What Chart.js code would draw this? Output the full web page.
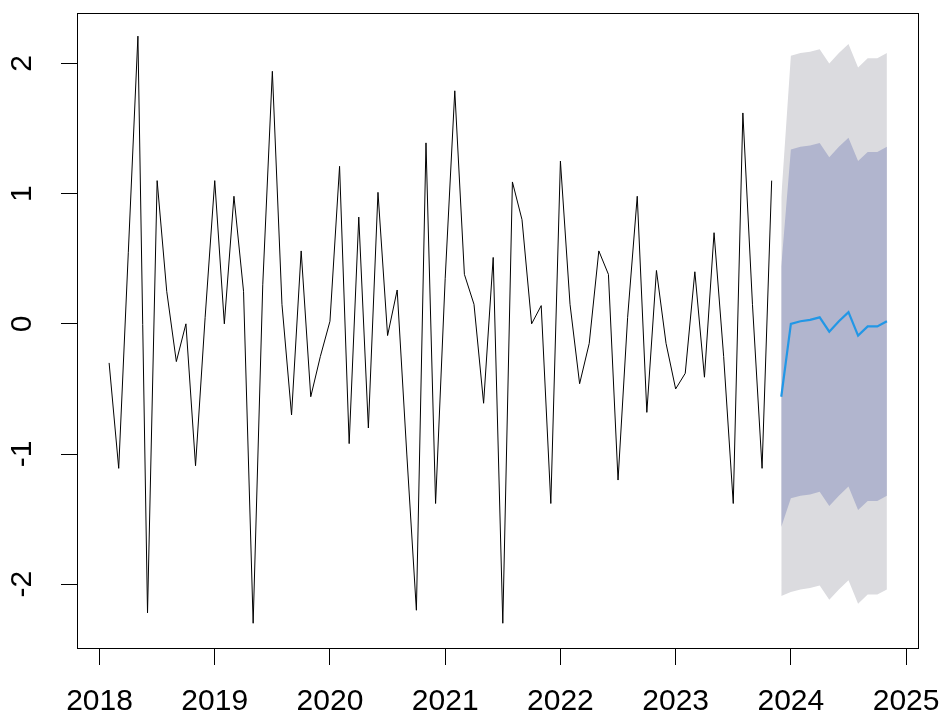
<!DOCTYPE html>
<html><head><meta charset="utf-8">
<script src="https://cdn.jsdelivr.net/npm/chart.js@4.4.1/dist/chart.umd.min.js"></script>
<style>html,body{margin:0;padding:0;background:#fff;} canvas{display:block;}</style>
</head><body>
<canvas id="c" width="943" height="716"></canvas>
<script>
const startYear = 2018, startMonth = 2; // first observation: Feb 2018, monthly
const history = [
 -0.30, -1.11, 0.55, 2.21, -2.22, 1.10, 0.25, -0.29, 0.00, -1.09,
  0.05, 1.10, 0.00, 0.98, 0.25, -2.30, 0.30, 1.94, 0.15, -0.70,
  0.56, -0.56, -0.25, 0.02, 1.21, -0.92, 0.82, -0.80, 1.01, -0.09,
  0.26, -1.00, -2.20, 1.39, -1.38, 0.35, 1.79, 0.38, 0.15, -0.61,
  0.51, -2.30, 1.09, 0.80, 0.00, 0.14, -1.38, 1.25, 0.15, -0.46,
 -0.15, 0.56, 0.38, -1.20, 0.05, 0.98, -0.68, 0.41, -0.15, -0.50,
 -0.38, 0.40, -0.41, 0.70, -0.25, -1.38, 1.62, 0.15, -1.11, 1.10];
const fcMean = [-0.56, 0.00, 0.02, 0.03, 0.05, -0.06, 0.02, 0.09, -0.09, -0.02, -0.02, 0.02];
const fcHi80 = [0.44, 1.34, 1.36, 1.37, 1.39, 1.28, 1.36, 1.43, 1.25, 1.32, 1.32, 1.36];
const fcLo80 = [-1.56, -1.34, -1.32, -1.31, -1.29, -1.40, -1.32, -1.25, -1.43, -1.36, -1.36, -1.32];
const fcHi95 = [0.97, 2.06, 2.08, 2.09, 2.11, 2.00, 2.08, 2.15, 1.97, 2.04, 2.04, 2.08];
const fcLo95 = [-2.09, -2.06, -2.04, -2.03, -2.01, -2.12, -2.04, -1.97, -2.15, -2.08, -2.08, -2.04];
const xTicks = [2018, 2019, 2020, 2021, 2022, 2023, 2024, 2025];
const yTicks = [-2, -1, 0, 1, 2];

const t = k => startYear + (startMonth - 1 + k) / 12;
const histPts = history.map((v, i) => ({x: t(i), y: v}));
const fc = arr => arr.map((v, i) => ({x: t(history.length + i), y: v}));

Chart.defaults.font.family = "'Liberation Sans', Arial, sans-serif";
Chart.defaults.color = '#000';

const gridOpts = {display: true, drawOnChartArea: false, drawTicks: true, tickLength: 17, color: '#000', lineWidth: 1};
const none = 'rgba(0,0,0,0)';

const boxPlugin = {
  id: 'box',
  afterDraw(c) {
    const {ctx, chartArea: a} = c;
    ctx.save();
    ctx.strokeStyle = '#000';
    ctx.lineWidth = 1;
    ctx.strokeRect(a.left - 0.5, a.top - 0.5, a.right - a.left + 1, a.bottom - a.top + 1);
    ctx.restore();
  }
};

const zeroPad = s => { s.paddingLeft = 0; s.paddingRight = 0; s.paddingTop = 0; s.paddingBottom = 0; };

new Chart(document.getElementById('c'), {
  type: 'line',
  data: {
    datasets: [
      {data: histPts, borderColor: '#000', borderWidth: 1, fill: false},
      {data: fc(fcMean), borderColor: '#2297E6', borderWidth: 2.2, fill: false},
      {data: fc(fcHi80), borderColor: none, borderWidth: 0, backgroundColor: '#B1B5CE', fill: 3},
      {data: fc(fcLo80), borderColor: none, borderWidth: 0, fill: false},
      {data: fc(fcHi95), borderColor: none, borderWidth: 0, backgroundColor: '#DBDBDF', fill: 5},
      {data: fc(fcLo95), borderColor: none, borderWidth: 0, fill: false}
    ]
  },
  options: {
    responsive: false, animation: false, events: [],
    layout: {autoPadding: false, padding: {left: 0, right: 25, top: 14, bottom: 0}},
    plugins: {legend: {display: false}, tooltip: {enabled: false}},
    elements: {point: {radius: 0}, line: {tension: 0}},
    scales: {
      x: {
        type: 'linear', min: 2017.8133, max: 2025.1033,
        afterBuildTicks: s => { s.ticks = xTicks.map(v => ({value: v})); },
        afterFit: s => { s.height = 68; zeroPad(s); },
        grid: gridOpts, border: {display: false},
        ticks: {color: '#000', font: {size: 30, lineHeight: 1}, padding: 22, maxRotation: 0, minRotation: 0, autoSkip: false, callback: v => String(v)}
      },
      y: {
        type: 'linear', min: -2.49, max: 2.38,
        afterBuildTicks: s => { s.ticks = yTicks.map(v => ({value: v})); },
        afterFit: s => { s.width = 78; zeroPad(s); },
        grid: gridOpts, border: {display: false},
        ticks: {color: '#000', font: {size: 30, lineHeight: 1}, padding: 25, minRotation: 90, maxRotation: 90, crossAlign: 'center', autoSkip: false, callback: v => String(v)}
      }
    }
  },
  plugins: [boxPlugin]
});
</script>
</body></html>
